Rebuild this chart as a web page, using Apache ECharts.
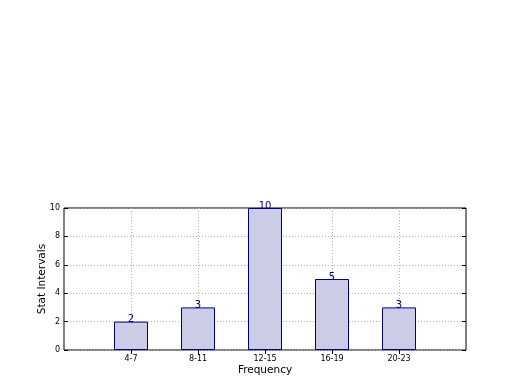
<!DOCTYPE html>
<html><head><meta charset="utf-8">
<script src="https://cdn.jsdelivr.net/npm/echarts@6/dist/echarts.min.js"></script>
<style>html,body{margin:0;padding:0;background:#fff}#c{width:520px;height:390px}</style>
</head><body><div id="c"></div>
<script>
const categories = ['', '4-7', '8-11', '12-15', '16-19', '20-23', ''];
const values = [null, 2, 3, 10, 5, 3, null];
const yTicks = [0, 2, 4, 6, 8, 10];

const chart = echarts.init(document.getElementById('c'));
const font = 'DejaVu Sans';
const tickStyle = {show: true, inside: true, length: 4, lineStyle: {color: '#000', width: 1}};
chart.setOption({
  animation: false,
  backgroundColor: '#fff',
  grid: {left: 64, top: 208, width: 402, height: 142, show: true, borderColor: '#000', borderWidth: 1, backgroundColor: 'transparent'},
  xAxis: [{
    type: 'category', data: categories, boundaryGap: false,
    name: 'Frequency', nameLocation: 'middle', nameGap: 15, nameMoveOverlap: false,
    nameTextStyle: {fontFamily: font, fontSize: 10.5, color: '#000'},
    axisLine: {show: false},
    axisTick: Object.assign({}, tickStyle, {interval: function(i){return i>0 && i<6;}}),
    axisLabel: {fontFamily: font, fontSize: 8, color: '#000', margin: 5, interval: 0},
    splitLine: {show: true, interval: function(i){return i>0 && i<6;}, lineStyle: {color: '#b0b0b0', type: [1, 2], width: 1}}
  }, {
    type: 'category', data: categories, boundaryGap: false, position: 'top',
    axisLine: {show: false}, axisLabel: {show: false},
    axisTick: Object.assign({}, tickStyle, {interval: function(i){return i>0 && i<6;}}),
    splitLine: {show: false}
  }],
  yAxis: [{
    type: 'value', min: 0, max: 10, interval: 2,
    name: 'Stat Intervals', nameLocation: 'middle', nameGap: 16, nameMoveOverlap: false,
    nameTextStyle: {fontFamily: font, fontSize: 10.5, color: '#000'},
    axisLine: {show: false},
    axisTick: tickStyle,
    axisLabel: {fontFamily: font, fontSize: 8, color: '#000', margin: 4,
      formatter: function(v){ return yTicks.indexOf(v) >= 0 ? String(v) : ''; }},
    splitLine: {show: true, lineStyle: {color: '#b0b0b0', type: [1, 2], width: 1}}
  }, {
    type: 'value', min: 0, max: 10, interval: 2, position: 'right',
    axisLine: {show: false}, axisLabel: {show: false}, axisTick: tickStyle, splitLine: {show: false}
  }],
  series: [{
    type: 'bar', data: values, barWidth: 34,
    itemStyle: {color: '#ccccE6', borderColor: '#000080', borderWidth: 1},
    label: {show: true, position: 'top', distance: -3, fontFamily: font, fontSize: 10, color: '#000080'},
    z: 3
  }]
});
</script></body></html>
